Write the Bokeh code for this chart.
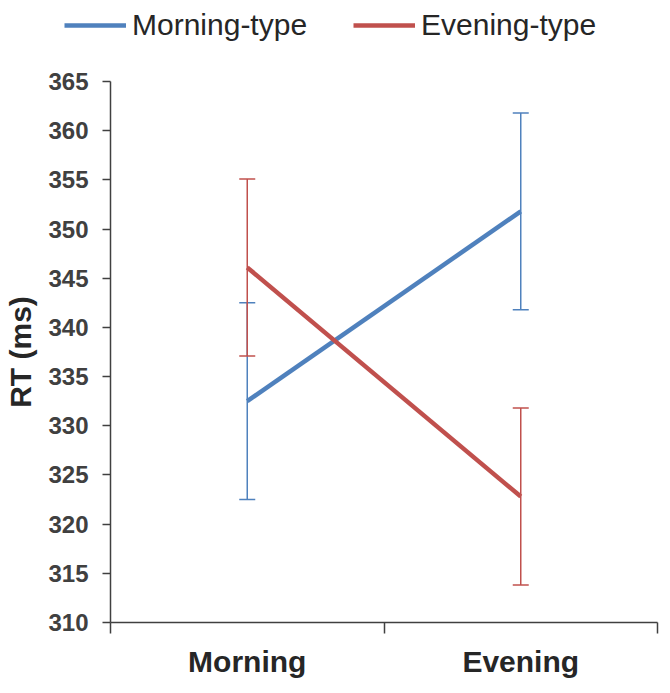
from bokeh.plotting import figure
from bokeh.layouts import column, row
from bokeh.models import (ColumnDataSource, Whisker, TeeHead, FixedTicker, Legend, LegendItem, Range1d)
from bokeh.embed import file_html
from bokeh.resources import INLINE

# ---- data ----
conditions = ["Morning", "Evening"]
cond_x = [0.5, 1.5]
morning_type_mean = [332.5, 351.8]
morning_type_err = [10.0, 10.0]
evening_type_mean = [346.1, 322.8]
evening_type_err = [9.0, 9.0]
series_names = ["Morning-type", "Evening-type"]
y_ticks = list(range(310, 366, 5))

BLUE = "#4F81BD"
RED = "#C0504D"
TXT = "#404040"

p = figure(width=660, height=630, output_backend="svg", toolbar_location=None,
           x_range=Range1d(0, 2), y_range=Range1d(310, 365),
           min_border_left=110, min_border_right=3, min_border_top=31, min_border_bottom=50)
p.grid.visible = False
p.outline_line_color = None
p.background_fill_color = "white"
p.border_fill_color = "white"

def src(means, errs):
    return ColumnDataSource(dict(x=cond_x, y=means,
                                 lo=[m - e for m, e in zip(means, errs)],
                                 hi=[m + e for m, e in zip(means, errs)]))

s_m = src(morning_type_mean, morning_type_err)
s_e = src(evening_type_mean, evening_type_err)

for s, c in [(s_m, BLUE), (s_e, RED)]:
    w = Whisker(source=s, base="x", upper="hi", lower="lo", line_color=c, line_width=1.5,
                upper_head=TeeHead(size=16, line_color=c, line_width=1.5),
                lower_head=TeeHead(size=16, line_color=c, line_width=1.5))
    p.add_layout(w)

p.line("x", "y", source=s_m, line_color=BLUE, line_width=4.5)
p.line("x", "y", source=s_e, line_color=RED, line_width=4.5)

# y axis
ya = p.yaxis[0]
ya.ticker = FixedTicker(ticks=y_ticks)
ya.minor_tick_line_color = None
ya.major_tick_in = 0
ya.major_tick_out = 8
ya.major_label_standoff = 14
ya.major_label_text_font = "Liberation Sans"
ya.major_label_text_font_style = "bold"
ya.major_label_text_font_size = "24px"
ya.major_label_text_color = TXT
ya.axis_line_color = TXT
ya.axis_line_width = 1.5
ya.major_tick_line_color = TXT
ya.major_tick_line_width = 1.5
ya.axis_label = "RT (ms)"
ya.axis_label_text_font = "Liberation Sans"
ya.axis_label_text_font_style = "bold"
ya.axis_label_text_font_size = "30px"
ya.axis_label_text_color = "#262626"
ya.axis_label_standoff = 8

# x axis
xa = p.xaxis[0]
xa.ticker = FixedTicker(ticks=cond_x, minor_ticks=[0, 1, 2])
xa.major_label_overrides = {cond_x[i]: conditions[i] for i in range(2)}
xa.major_tick_line_color = None
xa.major_tick_in = 0
xa.major_tick_out = 0
xa.minor_tick_in = 0
xa.minor_tick_out = 11
xa.minor_tick_line_color = TXT
xa.minor_tick_line_width = 1.5
xa.axis_line_color = TXT
xa.axis_line_width = 1.5
xa.major_label_standoff = 11
xa.major_label_text_font = "Liberation Sans"
xa.major_label_text_font_style = "bold"
xa.major_label_text_font_size = "30px"
xa.major_label_text_color = "#262626"

# legend strip (separate figure above the chart); its lines share the data
# sources but lie outside this strip's ranges, so only the legend is visible
pl = figure(width=660, height=50, output_backend="svg", toolbar_location=None,
            x_range=Range1d(-10, -9), y_range=Range1d(-10, -9),
            x_axis_location=None, y_axis_location=None,
            min_border_left=0, min_border_right=0, min_border_top=0, min_border_bottom=0)
pl.grid.visible = False
pl.outline_line_color = None
lm = pl.line("x", "y", source=s_m, line_color=BLUE, line_width=4.5)
le = pl.line("x", "y", source=s_e, line_color=RED, line_width=4.5)
legend = Legend(items=[LegendItem(label=series_names[0], renderers=[lm]),
                       LegendItem(label=series_names[1], renderers=[le])],
                location=(64, 8), orientation="horizontal",
                glyph_width=62, label_standoff=6, spacing=46, padding=0, margin=0,
                border_line_color=None, background_fill_alpha=0,
                label_text_font="Liberation Sans", label_text_font_size="30px",
                label_text_color="#262626")
pl.add_layout(legend, "center")

layout = column(row(pl), p, spacing=0)
open("out.html", "w").write(file_html(layout, INLINE))
